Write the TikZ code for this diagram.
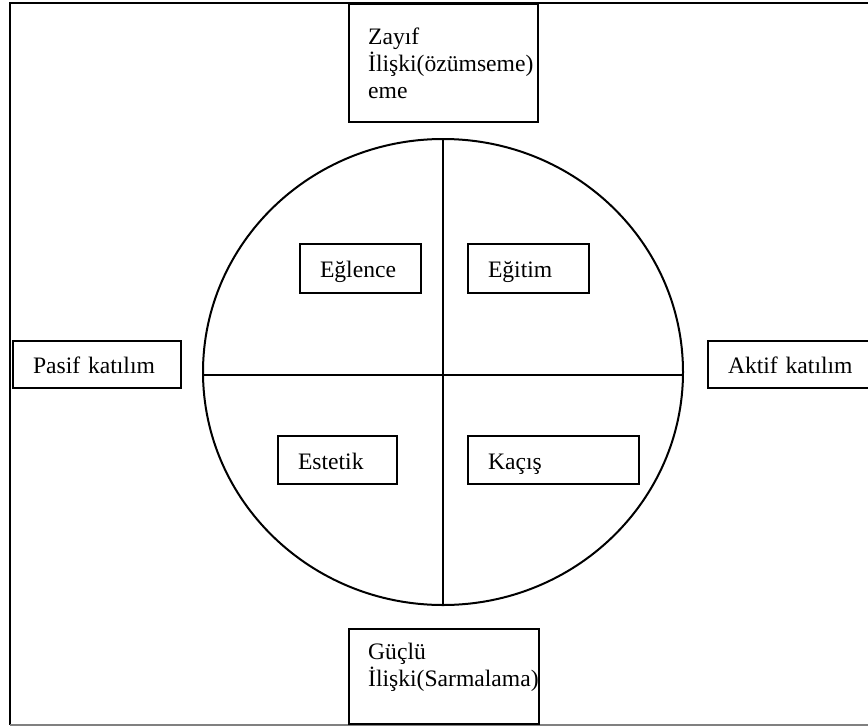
\documentclass[tikz,border=0pt]{standalone}
\usepackage{fontspec}
\setmainfont{Liberation Serif}
\begin{document}
\begin{tikzpicture}[x=1pt,y=-1pt,
  txt/.style={font=\fontsize{23.6}{27}\selectfont},
  box/.style={draw, line width=2pt, anchor=north west, inner xsep=20pt,
    inner ysep=0pt, align=left, text height=19pt, text depth=1pt, txt},
  frame/.style={line width=2pt},
  ring/.style={line width=2pt}]
\useasboundingbox (0,0) rectangle (868,726);

% outer frame (left and top black, bottom grey)
\coordinate (ftl) at (10,2.5);
\coordinate (ftr) at (872,2.5);
\coordinate (fbl) at (10,725);
\coordinate (fbr) at (872,725);
\draw[frame] (fbl) -- (ftl) -- (ftr);
\draw[gray, line width=1.4pt] (fbl) -- (fbr);

% circle divided into four quadrants
\coordinate (c) at (443,372);
\draw[ring] (c) ellipse [x radius=240, y radius=233];
\coordinate (ctop) at (443,139);
\coordinate (cbot) at (443,605);
\coordinate (cleft) at (203,375);
\coordinate (cright) at (683,375);
\draw[ring] (ctop) -- (cbot);
\draw[ring] (cleft) -- (cright);

% quadrant labels
\node[box, text width=81pt, minimum height=49pt] (eglence) at (299,243) {Eğlence};
\node[box, text width=81pt, minimum height=49pt] (egitim)  at (467,243) {Eğitim};
\node[box, text width=79pt, minimum height=48pt] (estetik) at (277,435) {Estetik};
\node[box, text width=131pt, minimum height=48pt] (kacis)  at (467,435) {Kaçış};

% side labels
\node[box, text width=128pt, minimum height=47pt] (pasif) at (12,340) {Pasif katılım};
\node[box, text width=125pt, minimum height=47pt] (aktif) at (707,340) {Aktif katılım};

% top and bottom boxes with top-aligned text
\node[draw, line width=2pt, anchor=north west, minimum width=189pt,
  minimum height=118pt, inner sep=0pt] (zayif) at (348,3) {};
\node[txt, anchor=north west, align=left, inner sep=0pt]
  (zayiftxt) at ([xshift=20pt,yshift=-25pt]zayif.north west)
  {Zayıf\\İlişki(özümseme)\\eme};

\node[draw, line width=2pt, anchor=north west, minimum width=190pt,
  minimum height=95pt, inner sep=0pt] (guclu) at (348,628) {};
\node[txt, anchor=north west, align=left, inner sep=0pt]
  (guclutxt) at ([xshift=20pt,yshift=-15pt]guclu.north west)
  {Güçlü\\İlişki(Sarmalama)};
\end{tikzpicture}
\end{document}
